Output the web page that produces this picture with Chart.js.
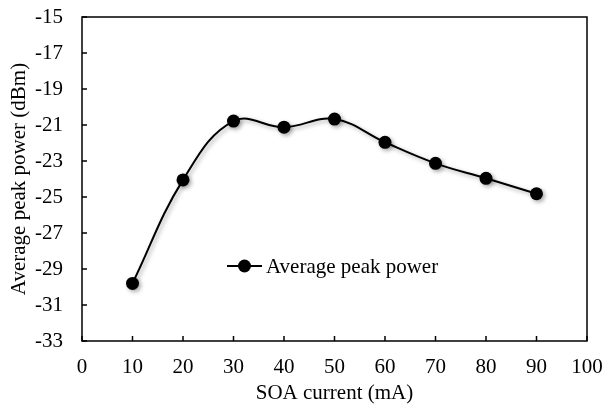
<!DOCTYPE html>
<html>
<head>
<meta charset="utf-8">
<script src="https://cdn.jsdelivr.net/npm/chart.js@4/dist/chart.umd.min.js"></script>
<style>
  html, body { margin: 0; padding: 0; background: #fff; }
  #wrap { width: 603px; height: 406px; }
</style>
</head>
<body>
<div id="wrap"><canvas id="chart" width="603" height="406"></canvas></div>
<script>
"use strict";

// Data

var currents = [10, 20, 30, 40, 50, 60, 70, 80, 90];	// mA
var peakPower = [-29.8, -24.05, -20.78, -21.12, -20.67, -21.96, -23.13, -23.96, -24.82];	// dBm
var seriesName = "Average peak power";
var xTitle = "SOA current (mA)",
	yTitle = "Average peak power (dBm)";
var xMin = 0, xMax = 100, xStep = 10,
	yMin = -33, yMax = -15, yStep = 2;

var FONT = "'Liberation Serif', 'Times New Roman', serif";
var FONT_SIZE = 21;

// shadow under line and markers, like the Excel effect
var shadowPlugin = {
	id: "shadow",
	beforeDatasetsDraw: function (chart) {
		var ctx = chart.ctx;
		ctx.save();
		ctx.shadowColor = "rgba(0,0,0,0.35)";
		ctx.shadowBlur = 4;
		ctx.shadowOffsetX = 2;
		ctx.shadowOffsetY = 2;
	},
	afterDatasetsDraw: function (chart) {
		chart.ctx.restore();
	}
};

// frame, inner tick marks and the in-plot legend
var framePlugin = {
	id: "frame",
	afterDraw: function (chart) {
		var ctx = chart.ctx, a = chart.chartArea,
			xs = chart.scales.x, ys = chart.scales.y;

		ctx.save();
		ctx.strokeStyle = "#000";
		ctx.lineWidth = 1.5;
		ctx.strokeRect(a.left, a.top, a.right - a.left, a.bottom - a.top);

		ctx.beginPath();
		ys.ticks.forEach(function (t) {
			var y = ys.getPixelForValue(t.value);
			ctx.moveTo(a.left, y);
			ctx.lineTo(a.left + 5, y);
		});
		xs.ticks.forEach(function (t) {
			var x = xs.getPixelForValue(t.value);
			ctx.moveTo(x, a.bottom);
			ctx.lineTo(x, a.bottom - 5);
		});
		ctx.stroke();

		// legend
		var lx = a.left + 145, ly = a.top + 249;
		ctx.lineWidth = 2;
		ctx.beginPath();
		ctx.moveTo(lx, ly);
		ctx.lineTo(lx + 35, ly);
		ctx.stroke();
		ctx.fillStyle = "#000";
		ctx.beginPath();
		ctx.arc(lx + 17.5, ly, 6.5, 0, Math.PI * 2);
		ctx.fill();
		ctx.font = FONT_SIZE + "px " + FONT;
		ctx.textBaseline = "middle";
		ctx.textAlign = "left";
		ctx.fillText(seriesName, lx + 39, ly + 1);
		ctx.restore();
	}
};

var points = currents.map(function (c, i) {
	return { x: c, y: peakPower[i] };
});

new Chart(document.getElementById("chart"), {
	type: "line",
	data: {
		datasets: [{
			label: seriesName,
			data: points,
			borderColor: "#000",
			backgroundColor: "#000",
			borderWidth: 2,
			pointRadius: 6.5,
			pointHoverRadius: 6.5,
			pointBackgroundColor: "#000",
			pointBorderWidth: 0,
			tension: 0.4,
			fill: false
		}]
	},
	plugins: [shadowPlugin, framePlugin],
	options: {
		responsive: false,
		animation: false,
		events: [],
		layout: { padding: { top: 17, right: 16, left: 0, bottom: 0 } },
		plugins: {
			legend: { display: false },
			tooltip: { enabled: false }
		},
		scales: {
			x: {
				type: "linear",
				min: xMin, max: xMax,
				ticks: {
					stepSize: xStep,
					color: "#000",
					font: { family: FONT, size: FONT_SIZE },
					padding: 0,
					maxRotation: 0
				},
				// invisible tick marks only keep the labels away from the axis
				grid: { display: true, drawOnChartArea: false, drawTicks: true,
					tickLength: 14, tickColor: "rgba(0,0,0,0)" },
				border: { display: false },
				title: {
					display: true,
					text: xTitle,
					color: "#000",
					font: { family: FONT, size: FONT_SIZE },
					padding: { top: 0, bottom: 0 }
				},
				afterFit: function (scale) { scale.height = 65; }
			},
			y: {
				min: yMin, max: yMax,
				ticks: {
					stepSize: yStep,
					color: "#000",
					font: { family: FONT, size: FONT_SIZE },
					padding: 2
				},
				grid: { display: true, drawOnChartArea: false, drawTicks: true,
					tickLength: 17, tickColor: "rgba(0,0,0,0)" },
				border: { display: false },
				title: {
					display: true,
					text: yTitle,
					color: "#000",
					font: { family: FONT, size: FONT_SIZE },
					padding: { top: 7, bottom: 0 }
				},
				afterFit: function (scale) { scale.width = 82; }
			}
		}
	}
});
</script>
</body>
</html>
